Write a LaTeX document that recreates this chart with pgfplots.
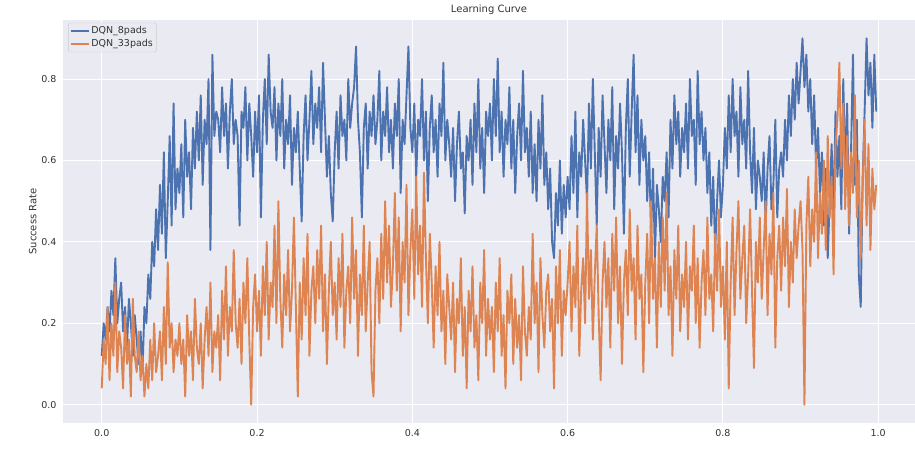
\documentclass[border=0pt]{standalone}
\usepackage{pgfplots}
\pgfplotsset{compat=1.18}
\usepackage{fontspec}
\setmainfont{DejaVu Sans}
\definecolor{bgcol}{HTML}{EAEAF2}
\definecolor{sbblue}{HTML}{4C72B0}
\definecolor{sborange}{HTML}{DD8452}
\definecolor{txt}{HTML}{333333}
\begin{document}
\begin{tikzpicture}
\path[use as bounding box] (0,0) rectangle (915pt,451pt);
\begin{axis}[
  at={(63pt,28pt)}, anchor=south west,
  width=852pt, height=403pt, scale only axis,
  xmin=-49.9, xmax=1047.4, ymin=-0.045, ymax=0.945,
  axis background/.style={fill=bgcol},
  axis line style={draw=none},
  major tick style={draw=none},
  grid=major, grid style={white, line width=1pt},
  xtick={0,200,400,600,800,1000},
  xticklabels={0.0,0.2,0.4,0.6,0.8,1.0},
  ytick={0,0.2,0.4,0.6,0.8},
  yticklabels={0.0,0.2,0.4,0.6,0.8},
  /pgf/number format/assume math mode=true,
  ticklabel style={font=\fontsize{9.5}{11}\selectfont, text=txt},
  xticklabel style={yshift=-3pt},
  yticklabel style={xshift=-3pt},
  ylabel={Success Rate},
  ylabel style={font=\fontsize{10}{12}\selectfont, text=txt, yshift=-2pt},
  title={Learning Curve},
  title style={font=\fontsize{10}{12}\selectfont, text=txt, yshift=-4pt},
  legend cell align=left,
  legend style={at={(rel axis cs:0.006,0.993)}, anchor=north west,
    fill=bgcol, fill opacity=0.8, text opacity=1, draw=black!20,
    rounded corners=2pt, font=\fontsize{9.5}{11}\selectfont, text=txt,
    inner sep=1.5pt, row sep=0.5pt},
  legend image code/.code={\draw[#1, line width=1.5pt] (0pt,0pt) -- (18pt,0pt);},
  clip=true,
]
\addplot[sbblue, line width=1.9pt, line join=round] coordinates {
(0,0.12)(2.5,0.20)(5,0.16)(7.5,0.24)(10,0.18)(12.5,0.28)(15,0.22)(17.5,0.36)(20,0.20)(22.5,0.26)
(25,0.30)(27.5,0.18)(30,0.24)(32.5,0.14)(35,0.26)(37.5,0.20)(40,0.12)(42.5,0.22)(45,0.16)(47.5,0.10)
(50,0.18)(52.5,0.08)(55,0.24)(57.5,0.20)(60,0.32)(62.5,0.26)(65,0.40)(67.5,0.34)(70,0.48)(72.5,0.38)
(75,0.54)(77.5,0.42)(80,0.62)(82.5,0.36)(85,0.50)(87.5,0.66)(90,0.44)(92.5,0.74)(95,0.48)(97.5,0.58)
(100,0.52)(102.5,0.64)(105,0.46)(107.5,0.70)(110,0.56)(112.5,0.62)(115,0.48)(117.5,0.68)(120,0.58)(122.5,0.72)
(125,0.60)(127.5,0.76)(130,0.54)(132.5,0.70)(135,0.64)(137.5,0.80)(140,0.38)(142.5,0.86)(145,0.66)(147.5,0.72)
(150,0.70)(152.5,0.62)(155,0.78)(157.5,0.66)(160,0.74)(162.5,0.58)(165,0.72)(167.5,0.80)(170,0.64)(172.5,0.70)
(175,0.66)(177.5,0.44)(180,0.72)(182.5,0.68)(185,0.78)(187.5,0.60)(190,0.74)(192.5,0.66)(195,0.56)(197.5,0.72)
(200,0.62)(202.5,0.76)(205,0.46)(207.5,0.70)(210,0.80)(212.5,0.64)(215,0.86)(217.5,0.72)(220,0.68)(222.5,0.78)
(225,0.60)(227.5,0.74)(230,0.66)(232.5,0.80)(235,0.58)(237.5,0.70)(240,0.64)(242.5,0.76)(245,0.54)(247.5,0.68)
(250,0.62)(252.5,0.72)(255,0.58)(257.5,0.45)(260,0.66)(262.5,0.76)(265,0.60)(267.5,0.70)(270,0.82)(272.5,0.64)
(275,0.74)(277.5,0.68)(280,0.78)(282.5,0.62)(285,0.84)(287.5,0.70)(290,0.56)(292.5,0.66)(295,0.52)(297.5,0.45)
(300,0.62)(302.5,0.72)(305,0.58)(307.5,0.76)(310,0.66)(312.5,0.70)(315,0.60)(317.5,0.80)(320,0.68)(322.5,0.74)
(325,0.78)(327.5,0.88)(330,0.70)(332.5,0.62)(335,0.46)(337.5,0.68)(340,0.74)(342.5,0.58)(345,0.72)(347.5,0.66)
(350,0.76)(352.5,0.64)(355,0.70)(357.5,0.82)(360,0.60)(362.5,0.72)(365,0.66)(367.5,0.78)(370,0.62)(372.5,0.70)
(375,0.58)(377.5,0.74)(380,0.66)(382.5,0.80)(385,0.52)(387.5,0.70)(390,0.64)(392.5,0.76)(395,0.88)(397.5,0.68)
(400,0.62)(402.5,0.74)(405,0.56)(407.5,0.70)(410,0.66)(412.5,0.80)(415,0.60)(417.5,0.72)(420,0.50)(422.5,0.68)
(425,0.76)(427.5,0.62)(430,0.70)(432.5,0.56)(435,0.74)(437.5,0.66)(440,0.84)(442.5,0.60)(445,0.70)(447.5,0.64)
(450,0.56)(452.5,0.68)(455,0.50)(457.5,0.64)(460,0.72)(462.5,0.58)(465,0.62)(467.5,0.47)(470,0.66)(472.5,0.60)
(475,0.70)(477.5,0.54)(480,0.74)(482.5,0.62)(485,0.80)(487.5,0.58)(490,0.68)(492.5,0.52)(495,0.72)(497.5,0.66)
(500,0.74)(502.5,0.60)(505,0.80)(507.5,0.66)(510,0.85)(512.5,0.62)(515,0.72)(517.5,0.56)(520,0.70)(522.5,0.64)
(525,0.78)(527.5,0.58)(530,0.70)(532.5,0.52)(535,0.66)(537.5,0.74)(540,0.60)(542.5,0.82)(545,0.62)(547.5,0.68)
(550,0.56)(552.5,0.72)(555,0.52)(557.5,0.64)(560,0.50)(562.5,0.70)(565,0.58)(567.5,0.76)(570,0.54)(572.5,0.62)
(575,0.48)(577.5,0.58)(580,0.40)(582.5,0.36)(585,0.52)(587.5,0.44)(590,0.60)(592.5,0.42)(595,0.54)(597.5,0.46)
(600,0.56)(602.5,0.48)(605,0.66)(607.5,0.52)(610,0.72)(612.5,0.46)(615,0.62)(617.5,0.56)(620,0.70)(622.5,0.60)
(625,0.50)(627.5,0.74)(630,0.58)(632.5,0.80)(635,0.62)(637.5,0.44)(640,0.68)(642.5,0.56)(645,0.76)(647.5,0.64)
(650,0.52)(652.5,0.70)(655,0.60)(657.5,0.78)(660,0.48)(662.5,0.66)(665,0.58)(667.5,0.74)(670,0.62)(672.5,0.42)
(675,0.68)(677.5,0.80)(680,0.56)(682.5,0.72)(685,0.86)(687.5,0.62)(690,0.76)(692.5,0.54)(695,0.70)(697.5,0.60)
(700,0.66)(702.5,0.50)(705,0.62)(707.5,0.42)(710,0.58)(712.5,0.36)(715,0.54)(717.5,0.48)(720,0.40)(722.5,0.56)
(725,0.50)(727.5,0.62)(730,0.46)(732.5,0.70)(735,0.58)(737.5,0.76)(740,0.64)(742.5,0.72)(745,0.56)(747.5,0.68)
(750,0.62)(752.5,0.74)(755,0.58)(757.5,0.80)(760,0.66)(762.5,0.70)(765,0.54)(767.5,0.82)(770,0.64)(772.5,0.72)
(775,0.60)(777.5,0.68)(780,0.52)(782.5,0.62)(785,0.44)(787.5,0.56)(790,0.38)(792.5,0.50)(795,0.60)(797.5,0.46)
(800,0.54)(802.5,0.68)(805,0.58)(807.5,0.76)(810,0.62)(812.5,0.80)(815,0.66)(817.5,0.72)(820,0.56)(822.5,0.78)
(825,0.64)(827.5,0.70)(830,0.58)(832.5,0.82)(835,0.62)(837.5,0.52)(840,0.68)(842.5,0.48)(845,0.60)(847.5,0.56)
(850,0.50)(852.5,0.62)(855,0.44)(857.5,0.58)(860,0.66)(862.5,0.48)(865,0.54)(867.5,0.70)(870,0.46)(872.5,0.58)
(875,0.62)(877.5,0.56)(880,0.70)(882.5,0.60)(885,0.76)(887.5,0.66)(890,0.80)(892.5,0.70)(895,0.84)(897.5,0.74)
(900,0.82)(902.5,0.90)(905,0.78)(907.5,0.86)(910,0.72)(912.5,0.80)(915,0.64)(917.5,0.76)(920,0.58)(922.5,0.68)
(925,0.52)(927.5,0.62)(930,0.44)(932.5,0.58)(935,0.36)(937.5,0.50)(940,0.64)(942.5,0.46)(945,0.72)(947.5,0.56)
(950,0.66)(952.5,0.48)(955,0.80)(957.5,0.58)(960,0.74)(962.5,0.42)(965,0.62)(967.5,0.86)(970,0.54)(972.5,0.70)
(975,0.32)(977.5,0.24)(980,0.56)(982.5,0.72)(985,0.90)(987.5,0.76)(990,0.84)(992.5,0.68)(995,0.86)(997.5,0.72)
};
\addlegendentry{DQN\_8pads}
\addplot[sborange, line width=1.9pt, line join=round] coordinates {
(0,0.04)(2.5,0.16)(5,0.10)(7.5,0.24)(10,0.06)(12.5,0.20)(15,0.12)(17.5,0.30)(20,0.08)(22.5,0.18)
(25,0.14)(27.5,0.04)(30,0.22)(32.5,0.10)(35,0.16)(37.5,0.02)(40,0.26)(42.5,0.12)(45,0.08)(47.5,0.18)
(50,0.06)(52.5,0.12)(55,0.02)(57.5,0.10)(60,0.04)(62.5,0.16)(65,0.06)(67.5,0.20)(70,0.08)(72.5,0.12)
(75,0.18)(77.5,0.06)(80,0.24)(82.5,0.10)(85,0.35)(87.5,0.14)(90,0.20)(92.5,0.08)(95,0.16)(97.5,0.12)
(100,0.20)(102.5,0.10)(105,0.16)(107.5,0.02)(110,0.22)(112.5,0.12)(115,0.18)(117.5,0.06)(120,0.26)(122.5,0.14)
(125,0.10)(127.5,0.20)(130,0.04)(132.5,0.16)(135,0.24)(137.5,0.12)(140,0.30)(142.5,0.08)(145,0.18)(147.5,0.14)
(150,0.22)(152.5,0.06)(155,0.28)(157.5,0.16)(160,0.34)(162.5,0.12)(165,0.24)(167.5,0.18)(170,0.38)(172.5,0.20)
(175,0.14)(177.5,0.26)(180,0.10)(182.5,0.30)(185,0.20)(187.5,0.36)(190,0.16)(192.5,0.00)(195,0.24)(197.5,0.32)
(200,0.18)(202.5,0.28)(205,0.12)(207.5,0.34)(210,0.22)(212.5,0.40)(215,0.16)(217.5,0.30)(220,0.24)(222.5,0.44)
(225,0.20)(227.5,0.50)(230,0.26)(232.5,0.14)(235,0.32)(237.5,0.22)(240,0.38)(242.5,0.18)(245,0.28)(247.5,0.46)
(250,0.24)(252.5,0.02)(255,0.30)(257.5,0.16)(260,0.36)(262.5,0.22)(265,0.42)(267.5,0.12)(270,0.28)(272.5,0.34)
(275,0.20)(277.5,0.38)(280,0.26)(282.5,0.44)(285,0.18)(287.5,0.32)(290,0.10)(292.5,0.28)(295,0.40)(297.5,0.22)
(300,0.30)(302.5,0.16)(305,0.36)(307.5,0.24)(310,0.42)(312.5,0.14)(315,0.28)(317.5,0.34)(320,0.20)(322.5,0.46)
(325,0.26)(327.5,0.38)(330,0.12)(332.5,0.32)(335,0.22)(337.5,0.44)(340,0.18)(342.5,0.30)(345,0.40)(347.5,0.08)
(350,0.02)(352.5,0.28)(355,0.36)(357.5,0.20)(360,0.42)(362.5,0.26)(365,0.50)(367.5,0.30)(370,0.44)(372.5,0.24)
(375,0.34)(377.5,0.52)(380,0.28)(382.5,0.46)(385,0.18)(387.5,0.40)(390,0.30)(392.5,0.54)(395,0.22)(397.5,0.38)
(400,0.48)(402.5,0.26)(405,0.56)(407.5,0.32)(410,0.44)(412.5,0.24)(415,0.57)(417.5,0.36)(420,0.20)(422.5,0.42)
(425,0.30)(427.5,0.14)(430,0.34)(432.5,0.22)(435,0.40)(437.5,0.18)(440,0.28)(442.5,0.10)(445,0.32)(447.5,0.24)
(450,0.16)(452.5,0.30)(455,0.08)(457.5,0.26)(460,0.20)(462.5,0.36)(465,0.12)(467.5,0.24)(470,0.04)(472.5,0.28)
(475,0.18)(477.5,0.34)(480,0.14)(482.5,0.22)(485,0.06)(487.5,0.30)(490,0.20)(492.5,0.38)(495,0.12)(497.5,0.26)
(500,0.16)(502.5,0.24)(505,0.08)(507.5,0.30)(510,0.18)(512.5,0.36)(515,0.12)(517.5,0.22)(520,0.04)(522.5,0.28)
(525,0.20)(527.5,0.32)(530,0.10)(532.5,0.26)(535,0.14)(537.5,0.22)(540,0.06)(542.5,0.34)(545,0.18)(547.5,0.12)
(550,0.24)(552.5,0.16)(555,0.42)(557.5,0.20)(560,0.30)(562.5,0.08)(565,0.36)(567.5,0.22)(570,0.14)(572.5,0.28)
(575,0.32)(577.5,0.18)(580,0.26)(582.5,0.04)(585,0.34)(587.5,0.20)(590,0.38)(592.5,0.12)(595,0.28)(597.5,0.22)
(600,0.30)(602.5,0.40)(605,0.18)(607.5,0.34)(610,0.24)(612.5,0.44)(615,0.12)(617.5,0.28)(620,0.36)(622.5,0.20)
(625,0.52)(627.5,0.26)(630,0.38)(632.5,0.16)(635,0.32)(637.5,0.44)(640,0.22)(642.5,0.06)(645,0.30)(647.5,0.40)
(650,0.24)(652.5,0.36)(655,0.14)(657.5,0.42)(660,0.28)(662.5,0.46)(665,0.20)(667.5,0.34)(670,0.10)(672.5,0.30)
(675,0.38)(677.5,0.22)(680,0.48)(682.5,0.28)(685,0.36)(687.5,0.16)(690,0.44)(692.5,0.26)(695,0.32)(697.5,0.08)
(700,0.30)(702.5,0.42)(705,0.20)(707.5,0.50)(710,0.26)(712.5,0.36)(715,0.14)(717.5,0.40)(720,0.24)(722.5,0.46)
(725,0.28)(727.5,0.52)(730,0.22)(732.5,0.34)(735,0.12)(737.5,0.38)(740,0.26)(742.5,0.44)(745,0.18)(747.5,0.32)
(750,0.24)(752.5,0.40)(755,0.16)(757.5,0.34)(760,0.28)(762.5,0.44)(765,0.20)(767.5,0.36)(770,0.14)(772.5,0.30)
(775,0.38)(777.5,0.22)(780,0.46)(782.5,0.26)(785,0.32)(787.5,0.18)(790,0.42)(792.5,0.28)(795,0.48)(797.5,0.24)
(800,0.34)(802.5,0.16)(805,0.40)(807.5,0.04)(810,0.30)(812.5,0.46)(815,0.22)(817.5,0.38)(820,0.50)(822.5,0.26)
(825,0.36)(827.5,0.44)(830,0.20)(832.5,0.32)(835,0.48)(837.5,0.28)(840,0.09)(842.5,0.40)(845,0.30)(847.5,0.46)
(850,0.26)(852.5,0.38)(855,0.50)(857.5,0.22)(860,0.42)(862.5,0.32)(865,0.52)(867.5,0.14)(870,0.36)(872.5,0.44)
(875,0.28)(877.5,0.46)(880,0.34)(882.5,0.53)(885,0.24)(887.5,0.40)(890,0.30)(892.5,0.48)(895,0.36)(897.5,0.44)
(900,0.50)(902.5,0.38)(905,0.00)(907.5,0.44)(910,0.56)(912.5,0.34)(915,0.48)(917.5,0.40)(920,0.62)(922.5,0.36)
(925,0.52)(927.5,0.42)(930,0.60)(932.5,0.38)(935,0.66)(937.5,0.46)(940,0.56)(942.5,0.32)(945,0.64)(947.5,0.70)
(950,0.84)(952.5,0.58)(955,0.74)(957.5,0.48)(960,0.66)(962.5,0.44)(965,0.62)(967.5,0.52)(970,0.76)(972.5,0.46)
(975,0.60)(977.5,0.36)(980,0.54)(982.5,0.70)(985,0.44)(987.5,0.64)(990,0.38)(992.5,0.58)(995,0.48)(997.5,0.54)
};
\addlegendentry{DQN\_33pads}
\node[anchor=north east, font=\fontsize{9.5}{11}\selectfont, text=txt, inner sep=0pt] at (rel axis cs:1,0) [yshift=-13pt] {1e6};
\end{axis}
\end{tikzpicture}
\end{document}
